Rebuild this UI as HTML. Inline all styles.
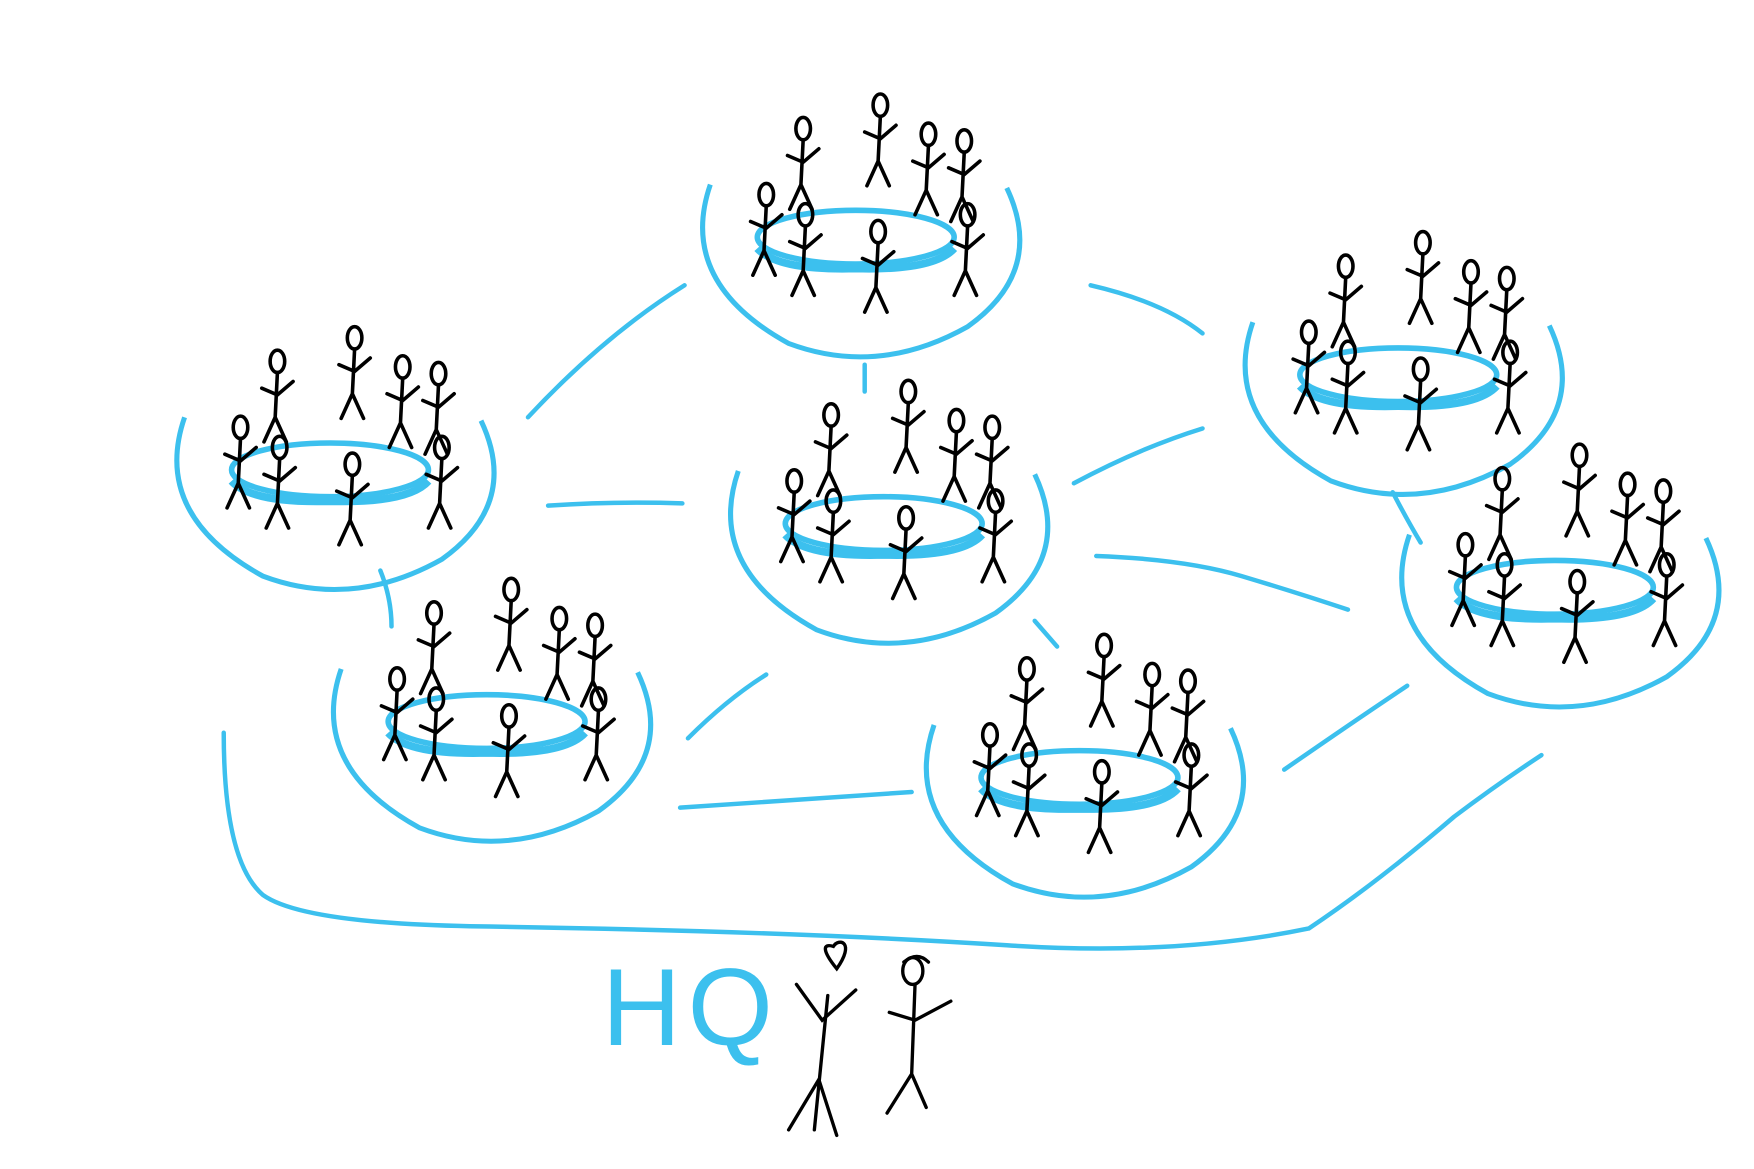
<!DOCTYPE html>
<html><head><meta charset="utf-8"><style>html,body{margin:0;padding:0;background:#fff}svg{display:block}</style></head>
<body>
<svg width="1754" height="1169" viewBox="0 0 1568 1045" xmlns="http://www.w3.org/2000/svg">
<defs>
<g id="fig" fill="none" stroke="#000" stroke-width="3.2" stroke-linecap="round">
 <ellipse cx="0" cy="0" rx="6.5" ry="10"/>
 <path d="M0 10 L-2 50 M-14 24 L0 30 L14 18 M-2 50 L-12 72 M-2 50 L8 72"/>
</g>
<g id="grp">
 <ellipse cx="0" cy="0" rx="88" ry="24" fill="none" stroke="#3cc0ee" stroke-width="5"/>
 <path d="M-88 10 Q-70 30 0 28 Q70 30 88 10" fill="none" stroke="#3cc0ee" stroke-width="7"/>
 <use href="#fig" x="-47" y="-97"/>
 <use href="#fig" x="22" y="-118"/>
 <use href="#fig" x="65" y="-92"/>
 <use href="#fig" x="97" y="-86"/>
 <use href="#fig" x="-80" y="-38"/>
 <use href="#fig" x="-45" y="-20"/>
 <use href="#fig" x="20" y="-5"/>
 <use href="#fig" x="100" y="-20"/>
 <path d="M-130 -47 Q-160 40 -60 95 Q20 125 100 80 Q170 30 135 -44" fill="none" stroke="#3cc0ee" stroke-width="4.5"/>
</g>
</defs>
<use href="#grp" x="765" y="212"/>
<use href="#grp" x="295" y="420"/>
<use href="#grp" x="790" y="468"/>
<use href="#grp" x="1250" y="335"/>
<use href="#grp" x="1390" y="525"/>
<use href="#grp" x="435" y="645"/>
<use href="#grp" x="965" y="695"/>
<g fill="none" stroke="#3cc0ee" stroke-width="4" stroke-linecap="round">
 <path d="M472 373 Q540 300 612 255"/>
 <path d="M975 255 Q1040 270 1075 298"/>
 <path d="M490 452 Q550 448 610 450"/>
 <path d="M960 432 Q1020 400 1075 383"/>
 <path d="M773 326 L773 350"/>
 <path d="M980 497 Q1060 500 1110 515 Q1160 530 1205 545"/>
 <path d="M340 510 Q350 535 350 560"/>
 <path d="M1245 440 Q1258 465 1270 485"/>
 <path d="M925 555 L945 578"/>
 <path d="M615 660 Q650 625 685 603"/>
 <path d="M608 722 Q710 715 815 708"/>
 <path d="M1148 688 Q1210 645 1258 613"/>
 <path d="M200 655 Q200 770 235 800 Q270 825 420 828 Q700 832 900 845 Q1050 855 1170 830 Q1230 790 1300 730 Q1340 700 1378 675"/>
</g>
<text x="538" y="934" font-family="Liberation Sans, sans-serif" font-size="98" fill="#3cc0ee" style="letter-spacing:6px">HQ</text>
<g fill="none" stroke="#000" stroke-width="3" stroke-linecap="round">
 <path d="M748 866 C735 850 735 843 745 846 C750 838 765 842 748 866Z"/>
 <path d="M740 890 L728 1010 M712 880 L735 912 L765 885 M732 965 L705 1010 M732 965 L748 1015"/>
 <ellipse cx="816" cy="868" rx="9" ry="12"/>
 <path d="M808 860 Q820 850 830 860"/>
 <path d="M818 880 L815 960 M795 905 L818 912 L850 895 M815 960 L793 995 M815 960 L828 990"/>
</g>
</svg>
</body></html>
